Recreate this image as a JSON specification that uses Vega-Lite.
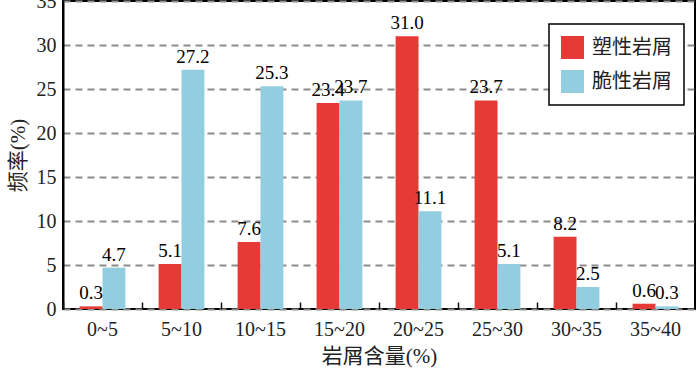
{
  "$schema": "https://vega.github.io/schema/vega-lite/v6.json",
  "width": 632,
  "height": 308,
  "autosize": "none",
  "padding": {"left": 63, "top": 1, "right": 5, "bottom": 62},
  "background": "white",
  "data": {
    "values": [
      {"range": "0~5", "type": "塑性岩屑", "value": 0.3},
      {"range": "0~5", "type": "脆性岩屑", "value": 4.7},
      {"range": "5~10", "type": "塑性岩屑", "value": 5.1},
      {"range": "5~10", "type": "脆性岩屑", "value": 27.2},
      {"range": "10~15", "type": "塑性岩屑", "value": 7.6},
      {"range": "10~15", "type": "脆性岩屑", "value": 25.3},
      {"range": "15~20", "type": "塑性岩屑", "value": 23.4},
      {"range": "15~20", "type": "脆性岩屑", "value": 23.7},
      {"range": "20~25", "type": "塑性岩屑", "value": 31.0},
      {"range": "20~25", "type": "脆性岩屑", "value": 11.1},
      {"range": "25~30", "type": "塑性岩屑", "value": 23.7},
      {"range": "25~30", "type": "脆性岩屑", "value": 5.1},
      {"range": "30~35", "type": "塑性岩屑", "value": 8.2},
      {"range": "30~35", "type": "脆性岩屑", "value": 2.5},
      {"range": "35~40", "type": "塑性岩屑", "value": 0.6},
      {"range": "35~40", "type": "脆性岩屑", "value": 0.3}
    ]
  },
  "encoding": {
    "x": {
      "field": "range",
      "type": "nominal",
      "sort": ["0~5", "5~10", "10~15", "15~20", "20~25", "25~30", "30~35", "35~40"],
      "scale": {"paddingInner": 0.42, "paddingOuter": 0.21},
      "axis": {
        "title": "岩屑含量(%)",
        "labelAngle": 0,
        "domain": false,
        "offset": -7,
        "zindex": 2,
        "bandPosition": -0.362,
        "ticks": true,
        "tickSize": 7,
        "tickColor": "#111",
        "tickWidth": 1.5,
        "labelPadding": 10,
        "titlePadding": 6
      }
    },
    "xOffset": {"field": "type", "type": "nominal", "sort": ["塑性岩屑", "脆性岩屑"]},
    "y": {
      "field": "value",
      "type": "quantitative",
      "scale": {"domain": [0, 35], "nice": false},
      "axis": {
        "title": "频率(%)",
        "values": [0, 5, 10, 15, 20, 25, 30, 35],
        "ticks": false,
        "grid": true,
        "gridColor": "#8c8c8c",
        "gridDash": [7, 5],
        "gridWidth": 1.8,
        "labelPadding": 7,
        "titlePadding": 8
      }
    }
  },
  "layer": [
    {
      "mark": {"type": "bar"},
      "encoding": {
        "color": {
          "field": "type",
          "type": "nominal",
          "scale": {"domain": ["塑性岩屑", "脆性岩屑"], "range": ["#E63A37", "#92CEE0"]},
          "legend": {
            "title": null,
            "orient": "none",
            "legendX": 486,
            "legendY": 23,
            "direction": "vertical",
            "symbolType": "square",
            "symbolSize": 529,
            "symbolStrokeWidth": 0,
            "symbolOpacity": 1,
            "labelFontSize": 20,
            "labelOffset": 8,
            "rowPadding": 11,
            "padding": 12,
            "strokeColor": "black",
            "fillColor": "white"
          }
        }
      }
    },
    {
      "mark": {"type": "text", "baseline": "bottom", "dy": -3, "fontSize": 19, "color": "black", "font": "Times New Roman"},
      "encoding": {
        "text": {"field": "value", "type": "quantitative", "format": ".1f"}
      }
    }
  ],
  "config": {
    "font": "Times New Roman, Noto Sans CJK SC",
    "view": {"stroke": "black", "strokeWidth": 2},
    "axis": {
      "domainColor": "black",
      "domainWidth": 2,
      "labelFont": "Times New Roman, Noto Sans CJK SC",
      "labelFontSize": 20,
      "labelColor": "#222",
      "titleFont": "Times New Roman, Noto Sans CJK SC",
      "titleFontSize": 21,
      "titleFontWeight": "normal",
      "titleColor": "#222"
    },
    "legend": {
      "labelFont": "Times New Roman, Noto Sans CJK SC",
      "labelColor": "#222",
      "strokeWidth": 1.5
    }
  }
}
